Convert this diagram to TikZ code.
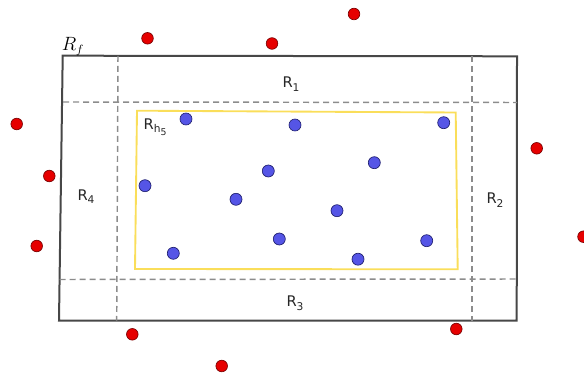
\documentclass[tikz,border=0pt]{standalone}
\usepackage{fontspec}
\setsansfont{DejaVu Sans}
\begin{document}
\begin{tikzpicture}[x=0.75pt,y=-0.75pt,
  outerline/.style={draw=black!72,line width=1.5pt},
  dashline/.style={draw=black!45,line width=1.1pt,dash pattern=on 4.5pt off 3pt},
  yellowline/.style={draw={rgb,255:red,250;green,222;blue,90},line width=1.4pt},
  reddot/.style={circle,inner sep=0pt,minimum size=8.7pt,fill={rgb,255:red,230;green,0;blue,0},draw={rgb,255:red,120;green,0;blue,0},line width=0.5pt},
  bluedot/.style={circle,inner sep=0pt,minimum size=9pt,fill={rgb,255:red,85;green,85;blue,230},draw={rgb,255:red,30;green,30;blue,110},line width=0.5pt},
  lab/.style={font=\sffamily\fontsize{11}{13}\selectfont,inner sep=0pt,text=black!85}
]
\useasboundingbox (0,0) rectangle (584,377);
% outer region
\draw[outerline] (62.7,55.7) -- (517,56.3) -- (516.7,320.5) -- (59,320.7) -- cycle;
% dashed partition lines
\draw[dashline] (63,102) -- (517,102.5);
\draw[dashline] (59.5,279.5) -- (516.7,279);
\draw[dashline] (118,56) -- (116.7,320.6);
\draw[dashline] (472,56.3) -- (472,320.5);
% yellow inner rectangle
\draw[yellowline] (137,110.7) -- (455.7,112.5) -- (457.7,269.3) -- (135,269) -- cycle;
% labels
\node[font=\fontsize{13.5}{15}\selectfont,inner sep=0pt] (rf) at (73,47) {$R_f$};
\node[lab] (r1) at (291,84) {R\raisebox{-0.45ex}{\fontsize{8}{9}\selectfont 1}};
\node[lab] (r2) at (495,200) {R\raisebox{-0.45ex}{\fontsize{8}{9}\selectfont 2}};
\node[lab] (r3) at (295,303) {R\raisebox{-0.45ex}{\fontsize{8}{9}\selectfont 3}};
\node[lab] (r4) at (86,196.5) {R\raisebox{-0.45ex}{\fontsize{8}{9}\selectfont 4}};
\node[lab] (rh) at (155,127) {R\raisebox{-0.45ex}{\fontsize{8}{9}\selectfont h\raisebox{-0.4ex}{\fontsize{7}{8}\selectfont 5}}};
% red points
\node[reddot] (p1) at (147.5,38.3) {};
\node[reddot] (p2) at (272,43.5) {};
\node[reddot] (p3) at (354,14) {};
\node[reddot] (p4) at (16.7,124) {};
\node[reddot] (p5) at (49.3,176) {};
\node[reddot] (p6) at (36.7,246) {};
\node[reddot] (p7) at (536.7,148.3) {};
\node[reddot] (p8) at (583.5,236.7) {};
\node[reddot] (p9) at (132.3,334.3) {};
\node[reddot] (p10) at (221.7,366) {};
\node[reddot] (p11) at (456.3,329) {};
% blue points
\node[bluedot] (b1) at (186,119) {};
\node[bluedot] (b2) at (295,125) {};
\node[bluedot] (b3) at (443.7,122.7) {};
\node[bluedot] (b4) at (374.3,162.7) {};
\node[bluedot] (b5) at (268.3,171) {};
\node[bluedot] (b6) at (145,185.7) {};
\node[bluedot] (b7) at (236,199.3) {};
\node[bluedot] (b8) at (337,210.7) {};
\node[bluedot] (b9) at (279.3,239) {};
\node[bluedot] (b10) at (426.7,240.7) {};
\node[bluedot] (b11) at (173.3,253.3) {};
\node[bluedot] (b12) at (358,259.2) {};
\end{tikzpicture}
\end{document}
